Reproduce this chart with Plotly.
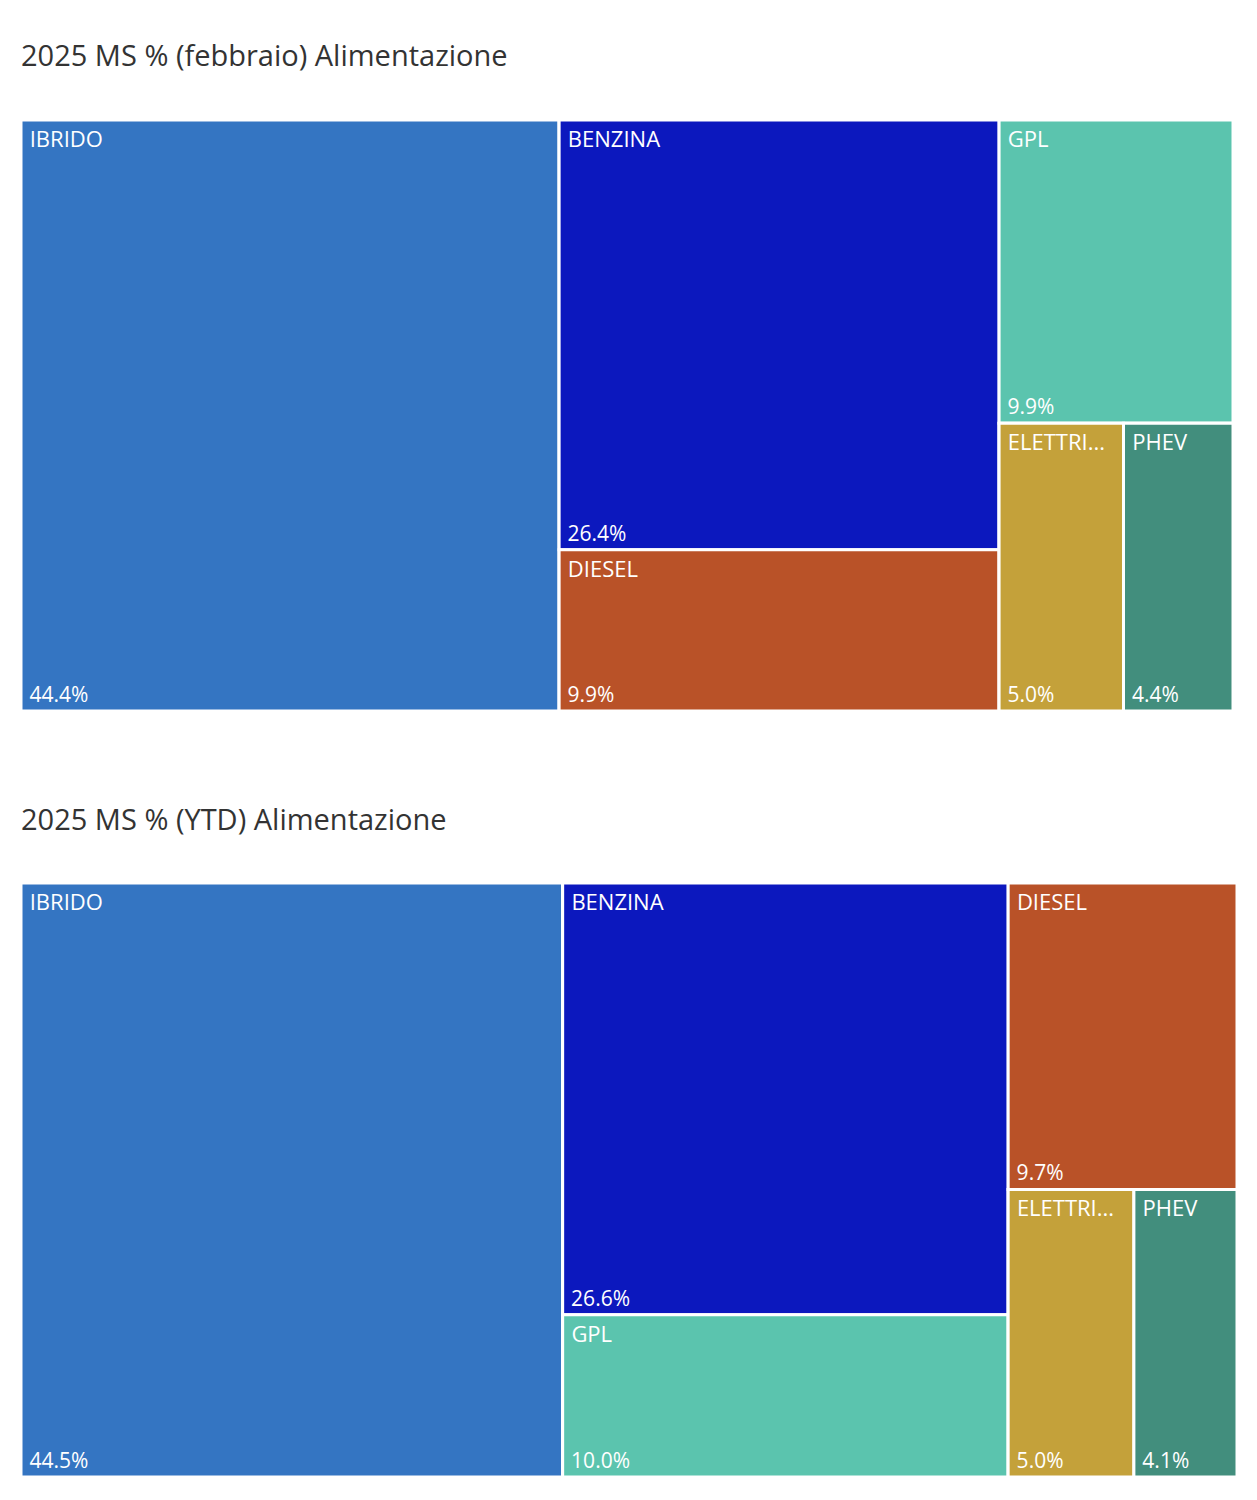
import plotly.graph_objects as go

# ---- data -------------------------------------------------------------
categories = ["IBRIDO", "BENZINA", "DIESEL", "GPL", "ELETTRICO", "PHEV"]
display_names = ["IBRIDO", "BENZINA", "DIESEL", "GPL", "ELETTRI...", "PHEV"]
feb_values = [44.4, 26.4, 9.9, 9.9, 5.0, 4.4]
ytd_values = [44.5, 26.6, 9.7, 10.0, 5.0, 4.1]
cat_colors = ["#3475C2", "#0C18BE", "#B95228", "#5BC4AE", "#C4A13A", "#428E7D"]

titles = ["2025 MS % (febbraio) Alimentazione", "2025 MS % (YTD) Alimentazione"]

# grouping of tiles reproducing the reference arrangement
feb_groups = ["", "A", "A", "B", "C", "C"]
ytd_groups = ["", "A", "B", "A", "C", "C"]
group_names = ["A", "B", "C"]
group_parents = ["", "", "B"]
feb_order = ["IBRIDO", "A", "BENZINA", "DIESEL", "B", "GPL", "C", "ELETTRICO", "PHEV"]
ytd_order = ["IBRIDO", "A", "BENZINA", "GPL", "B", "DIESEL", "C", "ELETTRICO", "PHEV"]

FONT = "Open Sans"
NB = "\u00a0"


def build(prefix, values, groups, order):
    ids, parents, vals, colors, names, pcts = [], [], [], [], [], []
    for key in order:
        if key in categories:
            i = categories.index(key)
            ids.append(prefix + key)
            parents.append(prefix + groups[i] if groups[i] else "")
            vals.append(values[i])
            colors.append(cat_colors[i])
            names.append(NB + display_names[i])
            pcts.append(NB + f"{values[i]:.1f}%")
        else:
            g = group_names.index(key)
            ids.append(prefix + key)
            parents.append(prefix + group_parents[g] if group_parents[g] else "")
            vals.append(0)
            colors.append("white")
            names.append("")
            pcts.append("")
    return ids, parents, vals, colors, names, pcts


W, H = 1257, 1500
OFF = 8  # page body margin


def px_x(v):
    return (v - OFF) / W


def px_y(v):
    return 1 - (v - OFF) / H


domains = [
    dict(x=[px_x(21), px_x(1233)], y=[px_y(711), px_y(120)]),
    dict(x=[px_x(21), px_x(1237)], y=[px_y(1477), px_y(883)]),
]

fig = go.Figure()
datasets = [("f-", feb_values, feb_groups, feb_order), ("y-", ytd_values, ytd_groups, ytd_order)]
for k, (prefix, values, groups, order) in enumerate(datasets):
    ids, parents, vals, colors, names, pcts = build(prefix, values, groups, order)
    common = dict(
        ids=ids, parents=parents, values=vals, labels=ids,
        branchvalues="remainder", sort=False, domain=domains[k],
        tiling=dict(packing="slice-dice", pad=0),
        pathbar=dict(visible=False),
        hoverinfo="skip",
    )
    fig.add_trace(go.Treemap(
        **common,
        marker=dict(colors=colors, line=dict(color="white", width=3),
                    pad=dict(t=0, l=0, r=0, b=0)),
        text=names, texttemplate="%{text}", textposition="top left",
        textfont=dict(family=FONT, size=22, color="white"),
    ))
    fig.add_trace(go.Treemap(
        **common,
        marker=dict(colors=["rgba(0,0,0,0)"] * len(ids), line=dict(width=0),
                    pad=dict(t=0, l=0, r=0, b=0)),
        text=pcts, texttemplate="%{text}", textposition="bottom left",
        textfont=dict(family=FONT, size=21, color="white"),
    ))

for k, t in enumerate(titles):
    yy = 55 if k == 0 else 818
    fig.add_annotation(
        text=t, xref="paper", yref="paper", x=px_x(19), y=px_y(yy),
        xanchor="left", yanchor="middle", showarrow=False,
        font=dict(family=FONT, size=29, color="#333333"),
    )

fig.update_layout(
    width=W, height=H, margin=dict(l=0, r=0, t=0, b=0),
    paper_bgcolor="white", plot_bgcolor="white", showlegend=False,
)

fig.write_html("out.html")
